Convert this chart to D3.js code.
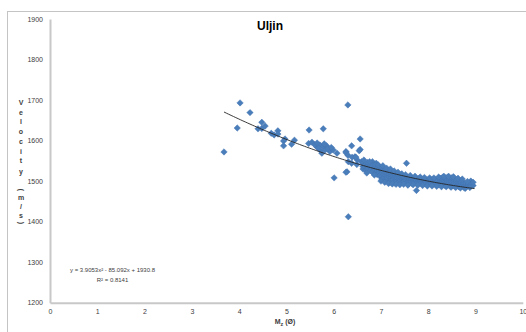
<!DOCTYPE html>
<html>
<head>
<meta charset="utf-8">
<script src="https://cdn.jsdelivr.net/npm/d3@7"></script>
<style>
  html, body { margin: 0; padding: 0; background: #fff; }
  svg { display: block; font-family: "Liberation Sans", Arial, sans-serif; }
</style>
</head>
<body>
<div id="chart"></div>
<script>
// mean grain size (phi) and sound velocity (m/s)
const mz = [
  3.68, 3.96, 4.02, 4.23, 4.40, 4.48, 4.48, 4.55, 4.68, 4.74, 4.82, 4.82, 4.94, 4.94, 4.97,
  5.11, 5.17, 5.48, 5.78, 5.47, 5.54, 5.64, 5.71, 5.78, 5.85, 5.71, 5.82, 5.92, 5.99, 5.75,
  6.07, 6.26, 6.38, 6.56, 6.56, 6.31, 6.38, 6.28, 6.49, 6.59, 6.65, 6.30, 6.01, 6.26, 6.31,
  7.75, 7.54, 6.45, 6.50, 5.60, 5.68, 5.88, 5.95, 5.65, 5.80, 6.26, 6.30, 6.39, 6.47, 6.54,
  6.82, 6.90, 6.75,
  6.62, 6.62, 6.62, 6.68, 6.68, 6.68, 6.72, 6.72, 6.72, 6.78, 6.78, 6.78, 6.82, 6.82, 6.82,
  6.88, 6.88, 6.88, 6.88, 6.92, 6.92, 6.92, 6.97, 6.97, 6.97, 6.97,
  7.02, 7.02, 7.02, 7.02, 7.02, 7.06, 7.06, 7.06, 7.06, 7.10, 7.10, 7.10, 7.10, 7.10,
  7.14, 7.14, 7.14, 7.14, 7.14, 7.18, 7.18, 7.18, 7.18, 7.18, 7.22, 7.22, 7.22, 7.22, 7.22,
  7.26, 7.26, 7.26, 7.26, 7.26, 7.30, 7.30, 7.30, 7.30, 7.30, 7.34, 7.34, 7.34, 7.34, 7.34,
  7.38, 7.38, 7.38, 7.38, 7.42, 7.42, 7.42, 7.42, 7.42, 7.46, 7.46, 7.46, 7.46,
  7.50, 7.50, 7.50, 7.50, 7.50, 7.55, 7.55, 7.55, 7.55, 7.60, 7.60, 7.60, 7.60, 7.60,
  7.65, 7.65, 7.65, 7.65, 7.70, 7.70, 7.70, 7.70, 7.75, 7.75, 7.75, 7.75, 7.80, 7.80, 7.80, 7.80,
  7.85, 7.85, 7.85, 7.85, 7.90, 7.90, 7.90, 7.90, 7.95, 7.95, 7.95, 7.95, 8.00, 8.00, 8.00, 8.00,
  8.05, 8.05, 8.05, 8.05, 8.10, 8.10, 8.10, 8.10, 8.15, 8.15, 8.15, 8.15, 8.20, 8.20, 8.20, 8.20,
  8.25, 8.25, 8.25, 8.25, 8.25, 8.30, 8.30, 8.30, 8.30, 8.30, 8.35, 8.35, 8.35, 8.35, 8.35,
  8.40, 8.40, 8.40, 8.40, 8.40, 8.45, 8.45, 8.45, 8.45, 8.45, 8.50, 8.50, 8.50, 8.50, 8.50,
  8.55, 8.55, 8.55, 8.55, 8.55, 8.60, 8.60, 8.60, 8.60, 8.65, 8.65, 8.65, 8.65,
  8.70, 8.70, 8.70, 8.70, 8.75, 8.75, 8.75, 8.80, 8.80, 8.80, 8.85, 8.85,
  8.90, 8.90, 8.90, 8.95, 8.95,
  6.64, 6.70, 6.76, 6.86, 6.94, 7.00, 7.04, 7.08, 7.12, 7.16, 7.20, 7.24, 7.28, 7.32, 7.36,
  7.40, 7.44, 7.48, 7.52, 7.57, 7.62, 7.68, 7.72, 7.78, 7.83, 7.88, 7.92, 7.98, 8.03, 8.08,
  8.12, 8.18, 8.22, 8.28, 8.33, 8.38, 8.43, 8.48, 8.53, 8.58, 8.63, 8.68, 8.72, 8.78, 8.83, 8.88
];
const velocity = [
  1572, 1631, 1693, 1669, 1629, 1645, 1630, 1636, 1618, 1614, 1624, 1616, 1599, 1587, 1604,
  1591, 1601, 1626, 1629, 1593, 1596, 1585, 1589, 1585, 1587, 1577, 1577, 1573, 1577, 1569,
  1569, 1573, 1587, 1604, 1578, 1548, 1544, 1523, 1541, 1548, 1532, 1688, 1508, 1522, 1412,
  1477, 1544, 1560, 1552, 1590, 1582, 1581, 1583, 1594, 1592, 1570, 1564, 1559, 1559, 1575,
  1548, 1544, 1540,
  1545, 1536, 1530, 1541, 1534, 1527, 1538, 1546, 1529, 1535, 1526, 1540, 1531, 1537, 1522,
  1528, 1535, 1519, 1540, 1525, 1532, 1516, 1522, 1530, 1513, 1536,
  1520, 1511, 1527, 1505, 1533, 1516, 1524, 1508, 1530, 1514, 1521, 1505, 1500, 1528,
  1512, 1519, 1503, 1525, 1508, 1510, 1517, 1500, 1523, 1497, 1509, 1515, 1502, 1520, 1496,
  1507, 1513, 1499, 1519, 1504, 1506, 1512, 1498, 1517, 1495, 1505, 1511, 1500, 1516, 1508,
  1504, 1510, 1497, 1515, 1503, 1509, 1496, 1514, 1500, 1503, 1508, 1498, 1512,
  1502, 1507, 1496, 1511, 1499, 1501, 1506, 1495, 1510, 1501, 1505, 1497, 1509, 1494,
  1500, 1505, 1495, 1508, 1500, 1504, 1496, 1507, 1499, 1503, 1494, 1507, 1499, 1503, 1495, 1506,
  1498, 1502, 1494, 1505, 1498, 1502, 1493, 1505, 1497, 1501, 1494, 1504, 1497, 1501, 1493, 1504,
  1497, 1500, 1493, 1503, 1496, 1500, 1492, 1504, 1496, 1500, 1492, 1503, 1496, 1500, 1491, 1504,
  1496, 1500, 1491, 1504, 1507, 1496, 1501, 1491, 1505, 1509, 1497, 1501, 1490, 1506, 1509,
  1496, 1501, 1490, 1505, 1509, 1496, 1501, 1489, 1505, 1508, 1495, 1500, 1488, 1505, 1508,
  1495, 1500, 1488, 1504, 1508, 1494, 1499, 1487, 1503, 1493, 1498, 1486, 1502,
  1492, 1497, 1486, 1501, 1491, 1496, 1485, 1490, 1495, 1485, 1489, 1493,
  1488, 1500, 1492, 1489, 1497,
  1552, 1520, 1548, 1515, 1540, 1500, 1538, 1497, 1532, 1494, 1530, 1493, 1525, 1492, 1522,
  1491, 1518, 1492, 1516, 1490, 1514, 1491, 1512, 1490, 1510, 1489, 1509, 1488, 1508, 1488,
  1508, 1487, 1510, 1486, 1512, 1486, 1512, 1485, 1511, 1484, 1507, 1483, 1505, 1482, 1499, 1484
];

const xTicks = [0, 1, 2, 3, 4, 5, 6, 7, 8, 9, 10];
const yTicks = [1200, 1300, 1400, 1500, 1600, 1700, 1800, 1900];

// polynomial trendline y = a x^2 + b x + c
const trendCoef = [3.9053, -85.092, 1930.8];
const trendRange = [3.68, 8.98];
const trendLabel = ["y = 3.9053x\u00B2 - 85.092x + 1930.8", "R\u00B2 = 0.8141"];

const title = "Uljin";
const yLabel = ["V", "e", "l", "o", "c", "i", "t", "y", "(", "m", "/", "s", ")"];
const yLabelPos = [103, 112.5, 122, 131.5, 141.5, 151.5, 161, 172, 190, 198, 206.5, 216, 223];

const W = 526, H = 332;
const svg = d3.select("#chart").append("svg")
  .attr("width", W)
  .attr("height", H);

// chart frame, runs off the page right and bottom
svg.append("rect")
  .attr("x", 7.5).attr("y", 11.5)
  .attr("width", 600).attr("height", 400)
  .attr("fill", "#fff")
  .attr("stroke", "#c4c4c4")
  .attr("stroke-width", 1);

const x = d3.scaleLinear().domain([0, 10]).range([50, 522.8]);
const y = d3.scaleLinear().domain([1200, 1900]).range([302.7, 19]);

// axes
const yAxis = svg.append("g")
  .attr("transform", `translate(${x(0)},0)`)
  .call(d3.axisLeft(y).tickValues(yTicks).tickSize(0).tickSizeOuter(0).tickPadding(7)
    .tickFormat(d3.format("d")));
const xAxis = svg.append("g")
  .attr("transform", `translate(0,${y(1200)})`)
  .call(d3.axisBottom(x).tickValues(xTicks).tickSize(0).tickSizeOuter(0).tickPadding(6)
    .tickFormat(d3.format("d")));

[xAxis, yAxis].forEach(g => {
  g.select(".domain").attr("stroke", "#c8c8c8").attr("stroke-width", 2);
  g.selectAll("text")
    .attr("fill", "#404040")
    .style("font-size", "7px");
});

// trendline
const trend = d3.range(trendRange[0], trendRange[1] + 0.001, 0.05)
  .map(v => [v, trendCoef[0] * v * v + trendCoef[1] * v + trendCoef[2]]);

// points
const diamond = d3.symbol().type(d3.symbolSquare).size(21);
svg.append("g")
  .selectAll("path")
  .data(mz.map((m, i) => [m, velocity[i]]))
  .join("path")
  .attr("d", diamond)
  .attr("transform", d => `translate(${x(d[0])},${y(d[1])}) rotate(45)`)
  .attr("fill", "#4a7ebb")
  .attr("stroke", "#4273b0")
  .attr("stroke-width", 0.4);

svg.append("path")
  .datum(trend)
  .attr("fill", "none")
  .attr("stroke", "#262626")
  .attr("stroke-width", 0.9)
  .attr("d", d3.line().x(d => x(d[0])).y(d => y(d[1])));

// trendline equation
svg.append("g")
  .selectAll("text")
  .data(trendLabel)
  .join("text")
  .attr("x", 112.5)
  .attr("y", (d, i) => 272 + i * 10)
  .attr("text-anchor", "middle")
  .attr("fill", "#404040")
  .style("font-size", "6px")
  .text(d => d);

// title
svg.append("text")
  .attr("x", 270)
  .attr("y", 29.5)
  .attr("text-anchor", "middle")
  .attr("font-weight", "bold")
  .style("font-size", "12px")
  .attr("fill", "#000")
  .text(title);

// x axis title: Mz (Ø) with subscript z
const xt = svg.append("text")
  .attr("x", 285)
  .attr("y", 324)
  .attr("text-anchor", "middle")
  .attr("font-weight", "bold")
  .attr("fill", "#404040")
  .style("font-size", "7px");
xt.append("tspan").text("M");
xt.append("tspan").attr("dy", 1.5).style("font-size", "5.5px").text("z");
xt.append("tspan").attr("dy", -1.5).text(" (\u00D8)");

// y axis title, stacked letters; brackets turned sideways
svg.append("g")
  .selectAll("text")
  .data(yLabel)
  .join("text")
  .attr("transform", (d, i) => `translate(21,${yLabelPos[i]})` + (d === "(" || d === ")" ? " rotate(90)" : ""))
  .attr("dy", "0.35em")
  .attr("text-anchor", "middle")
  .attr("font-weight", "bold")
  .attr("fill", "#404040")
  .style("font-size", "7px")
  .text(d => d);
</script>
</body>
</html>
